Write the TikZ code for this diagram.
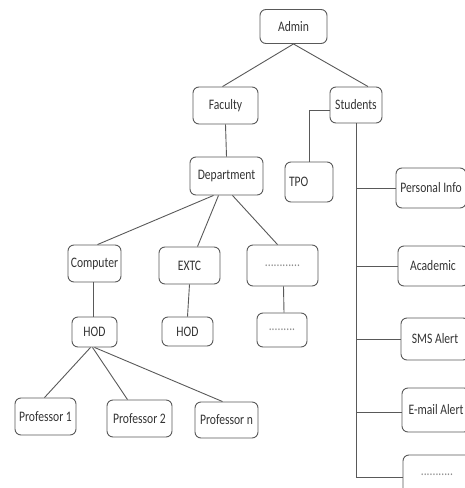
\documentclass[tikz,border=0pt]{standalone}
\usepackage{fontspec}
\setmainfont{Carlito}[FakeStretch=0.8]
\begin{document}
\begin{tikzpicture}[x=1pt,y=-1pt,
  box/.style={draw=black!65, line width=0.9pt, rounded corners=6pt, inner sep=0pt, font=\fontsize{14.5}{16}\selectfont, text=black!80},
  link/.style={draw=black!65, line width=0.9pt}]
\useasboundingbox (0,0) rectangle (464,488);
\node[box, minimum width=67, minimum height=34] (admin) at (293.5,26.5) {Admin};
\node[box, minimum width=65, minimum height=37] (faculty) at (225.5,105.5) {Faculty};
\node[box, minimum width=52, minimum height=36] (students) at (356,105) {Students};
\node[box, minimum height=40, text width=40, inner xsep=4pt, align=left] (tpo) at (309,182) {TPO};
\node[box, minimum width=70, minimum height=40] (pinfo) at (431,188) {Personal Info};
\node[box, minimum width=70, minimum height=40] (academic) at (433,266) {Academic};
\node[box, minimum width=68, minimum height=42] (sms) at (435,339) {SMS Alert};
\node[box, minimum width=68, minimum height=44] (email) at (436,410) {E-mail Alert};
\node[box, minimum width=68, minimum height=40] (more) at (437,475) {\textcolor{black!45}{...........}};
\node[box, minimum width=73, minimum height=38] (dept) at (226.5,176) {Department};
\node[box, minimum width=53, minimum height=37] (computer) at (94.5,263.5) {Computer};
\node[box, minimum width=61, minimum height=37] (extc) at (189.5,265.5) {EXTC};
\node[box, minimum width=71, minimum height=41] (dotsa) at (282.5,265.5) {\textcolor{black!45}{............}};
\node[box, minimum width=45, minimum height=30] (hoda) at (94.5,332) {HOD};
\node[box, minimum width=51, minimum height=29] (hodb) at (187.5,331.5) {HOD};
\node[box, minimum width=50, minimum height=34] (dotsb) at (282,330) {\textcolor{black!45}{.........}};
\node[box, minimum width=61, minimum height=37] (profa) at (45.5,416.5) {Professor 1};
\node[box, minimum width=65, minimum height=37] (profb) at (139.5,418.5) {Professor 2};
\node[box, minimum width=63, minimum height=36] (profn) at (226.5,420) {Professor n};
% connectors
\draw[link] (admin.south) -- ([xshift=-3pt]faculty.north);
\draw[link] (admin.south) -- ([xshift=12pt]students.north);
\draw[link] ([yshift=-5pt]students.west) -| (tpo.north);
\draw[link] (students.south) |- (pinfo.west);
\draw[link] (students.south) |- (academic.west);
\draw[link] (students.south) |- (sms.west);
\draw[link] (students.south) |- ([yshift=-2pt]email.west);
\draw[link] (students.south) |- (more.west |- 0,477);
\draw[link] (faculty.south) -- (dept.north);
\draw[link] ([xshift=-13pt]dept.south) -- ([xshift=3pt]computer.north);
\draw[link] ([xshift=-8pt]dept.south) -- ([xshift=8pt]extc.north);
\draw[link] ([xshift=6pt]dept.south) -- ([xshift=-5pt]dotsa.north);
\draw[link] ([xshift=-1pt]computer.south) -- ([xshift=-1pt]hoda.north);
\draw[link] (extc.south) -- (hodb.north);
\draw[link] ([xshift=1pt]dotsa.south) -- ([xshift=2pt]dotsb.north);
\draw[link] ([xshift=-4pt]hoda.south) -- ([xshift=-1pt]profa.north);
\draw[link] ([xshift=-2pt]hoda.south) -- ([xshift=-12pt]profb.north);
\draw[link] (hoda.south) -- ([xshift=-4pt]profn.north);
\end{tikzpicture}
\end{document}
